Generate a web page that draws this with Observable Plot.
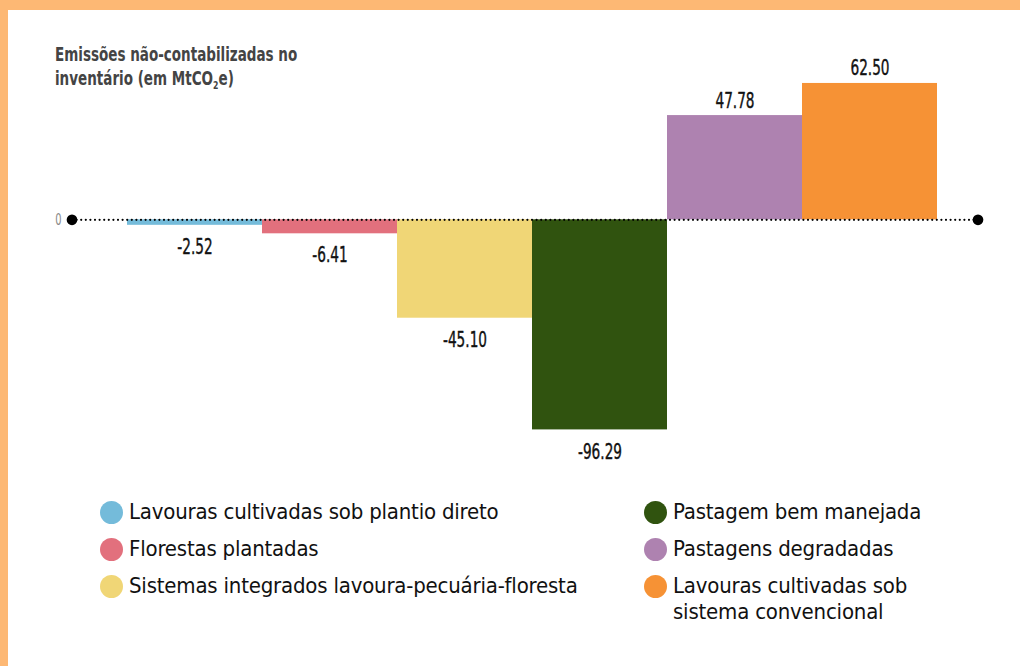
<!DOCTYPE html>
<html>
<head>
<meta charset="utf-8">
<script src="https://cdn.jsdelivr.net/npm/d3@7"></script>
<script src="https://cdn.jsdelivr.net/npm/@observablehq/plot@0.6"></script>
<style>
  html, body { margin: 0; padding: 0; background: #fff; }
  #frame {
    position: relative; width: 1020px; height: 666px; box-sizing: border-box;
    border-top: 10px solid #FDB874; border-left: 8px solid #FDB874; overflow: hidden;
    background: #fff;
  }
  #title {
    position: absolute; left: 47px; top: 32px; z-index: 2; white-space: nowrap;
    font-family: "DejaVu Sans Condensed", "DejaVu Sans", sans-serif; font-stretch: condensed;
    font-weight: bold; font-size: 19px; line-height: 24px; color: #444;
    transform: scaleX(0.79); transform-origin: 0 0;
  }
  #title sub { font-size: 11px; line-height: 0; vertical-align: -4px; }
  #chart { position: absolute; left: 0; top: 0; }
  #legend {
    position: absolute; left: 92px; top: 489px;
    display: grid; grid-template-columns: 544px 300px; row-gap: 0;
    font-family: "DejaVu Sans Condensed", "DejaVu Sans", sans-serif; font-stretch: condensed;
    font-size: 22px; letter-spacing: -0.2px; color: #111;
  }
  .item { display: flex; align-items: flex-start; height: 37px; line-height: 26px; }
  .sw { width: 23px; height: 23px; border-radius: 50%; flex: none; margin-right: 6px; margin-top: 1.5px; }
</style>
</head>
<body>
<div id="frame">
  <div id="title">Emissões não-contabilizadas no<br>inventário (em MtCO<sub>2</sub>e)</div>
  <div id="chart"></div>
  <div id="legend"></div>
</div>
<script>
const categories = [
  "Lavouras cultivadas sob plantio direto",
  "Florestas plantadas",
  "Sistemas integrados lavoura-pecuária-floresta",
  "Pastagem bem manejada",
  "Pastagens degradadas",
  "Lavouras cultivadas sob sistema convencional"
];
const values = [-2.52, -6.41, -45.10, -96.29, 47.78, 62.50];
const labels = ["-2.52", "-6.41", "-45.10", "-96.29", "47.78", "62.50"];
const colors = ["#74BBDA", "#E2707D", "#F0D676", "#30530F", "#AE82B0", "#F69235"];
const legendOrder = [0, 3, 1, 4, 2, 5];
const yTicks = [0];

const data = categories.map((c, i) => ({ category: c, value: values[i], label: labels[i] }));

const font = '"DejaVu Sans Condensed", "DejaVu Sans", sans-serif';

const chart = Plot.plot({
  width: 1012,
  height: 450,
  marginLeft: 64,
  marginRight: 42,
  marginTop: 0,
  marginBottom: 0,
  style: { background: "transparent", fontFamily: font, overflow: "visible" },
  x: { domain: categories, range: [118, 930], padding: 0, axis: null },
  y: { domain: [-100, 65], range: [427.5, 67.5], axis: null },
  color: { domain: categories, range: colors },
  marks: [
    Plot.barY(data, { x: "category", y: "value", fill: "category" }),
    Plot.ruleY(yTicks, { stroke: "#000", strokeWidth: 2.2, strokeDasharray: "0,4.6", strokeLinecap: "round" }),
    Plot.ruleY(yTicks, { stroke: "#000", strokeWidth: 3.2, strokeDasharray: "0,4000", markerStart: "dot", markerEnd: "dot" }),
    Plot.axisY(yTicks, { label: null, tickSize: 0, tickPadding: 11, tickFormat: d => String(d), fontSize: 16, fill: "#888", fontFamily: font }),
    Plot.text(data.filter(d => d.value >= 0), {
      x: "category", y: "value", text: "label", lineAnchor: "bottom", dy: -8,
      fontSize: 22, fill: "#111", stroke: "#111", strokeWidth: 0.4, fontFamily: font
    }),
    Plot.text(data.filter(d => d.value < 0), {
      x: "category", y: "value", text: "label", lineAnchor: "top", dy: 13,
      fontSize: 22, fill: "#111", stroke: "#111", strokeWidth: 0.4, fontFamily: font
    })
  ]
});

// narrow the SVG text horizontally to imitate the condensed face
const sx = 0.69;
chart.querySelectorAll("text").forEach(t => {
  const tr = t.getAttribute("transform");
  if (tr) {
    t.setAttribute("transform", tr + ` scale(${sx},1)`);
  } else {
    const x = +(t.getAttribute("x") || 0);
    t.setAttribute("transform", `translate(${x},0) scale(${sx},1) translate(${-x},0)`);
  }
});
document.getElementById("chart").appendChild(chart);

const legend = document.getElementById("legend");
legendOrder.forEach(i => {
  const item = document.createElement("div");
  item.className = "item";
  const sw = document.createElement("span");
  sw.className = "sw";
  sw.style.background = colors[i];
  const t = document.createElement("span");
  t.textContent = categories[i];
  if (i === 5) { t.style.maxWidth = "250px"; }
  item.appendChild(sw);
  item.appendChild(t);
  legend.appendChild(item);
});
</script>
</body>
</html>
